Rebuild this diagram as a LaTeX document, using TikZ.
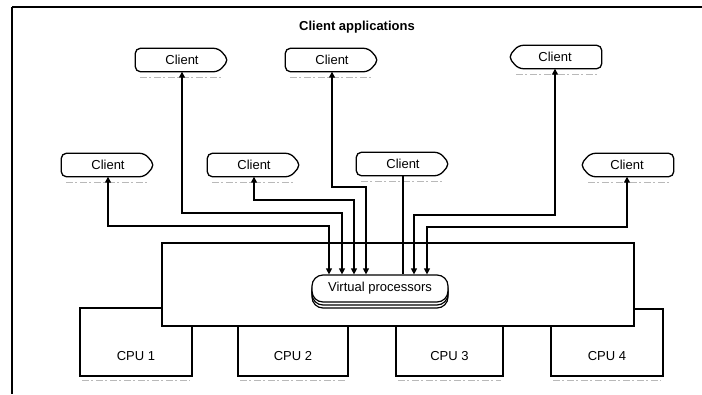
\documentclass[tikz,border=0pt]{standalone}
\usepackage{fontspec}
\setmainfont{Liberation Sans}
\usetikzlibrary{arrows.meta,calc,shadows}

\tikzset{
  frameline/.style={line width=1.4pt},
  labelfont/.style={font=\fontsize{13}{15}\selectfont},
  titletext/.style={font=\bfseries\fontsize{13}{15}\selectfont, inner sep=0pt},
  clientbox/.style={labelfont, minimum width=93pt, minimum height=23pt, inner sep=0pt},
  outline/.style={line width=1.3pt, rounded corners=5pt},
  cpubox/.style={draw, line width=1.2pt, fill=white, inner sep=0pt},
  cpulabel/.style={labelfont, anchor=center, yshift=21pt},
  hostbox/.style={draw, line width=1.2pt, fill=white, minimum width=472pt, minimum height=83pt, inner sep=0pt},
  vpbox/.style={draw, fill=white, line width=1.2pt, rounded corners=11pt,
    minimum width=136pt, minimum height=27pt, inner sep=0pt, labelfont,
    double copy shadow={shadow xshift=0pt, shadow yshift=-3pt}},
  link/.style={line width=1.2pt},
  bilink/.style={link, {Triangle[length=6pt,width=6pt]}-{Triangle[length=6pt,width=6pt]}},
  shadowline/.style={gray!55, line width=0.8pt, dash pattern=on 7pt off 2pt on 2pt off 3pt},
}

% client outlines: rounded body with a pointed end
\newcommand{\pointright}[1]{%
  \draw[outline] ([xshift=-10pt]#1.north east) -- (#1.east) -- ([xshift=-10pt]#1.south east)
    -- (#1.south west) -- (#1.north west) -- cycle;
  \draw[shadowline] ([xshift=5pt,yshift=-6pt]#1.south west) -- ([xshift=-8pt,yshift=-6pt]#1.south east);}
\newcommand{\pointleft}[1]{%
  \draw[outline] ([xshift=10pt]#1.north west) -- (#1.west) -- ([xshift=10pt]#1.south west)
    -- (#1.south east) -- (#1.north east) -- cycle;
  \draw[shadowline] ([xshift=8pt,yshift=-6pt]#1.south west) -- ([xshift=-3pt,yshift=-6pt]#1.south east);}
\newcommand{\boxshadow}[1]{%
  \draw[shadowline] ([xshift=3pt,yshift=-4pt]#1.south west) -- ([xshift=-3pt,yshift=-4pt]#1.south east);}

\begin{document}
\begin{tikzpicture}[x=1pt,y=-1pt]
\useasboundingbox (0,0) rectangle (702,394);
\fill[white] (0,0) rectangle (702,394);

% page frame
\draw[frameline] (12,7) -- (702,7);
\draw[frameline] (12,7) -- (12,394);

\node[titletext] (title) at (357,27) {Client applications};

% processors
\node[cpubox, minimum width=112pt, minimum height=68pt,
      label={[cpulabel,name=cpu1t]south:CPU 1}] (cpu1) at (136,342) {};
\node[cpubox, minimum width=110pt, minimum height=50pt,
      label={[cpulabel,name=cpu2t]south:CPU 2}] (cpu2) at (293,351) {};
\node[cpubox, minimum width=107pt, minimum height=50pt,
      label={[cpulabel,name=cpu3t]south:CPU 3}] (cpu3) at (449.5,351) {};
\node[cpubox, minimum width=112pt, minimum height=67pt,
      label={[cpulabel,name=cpu4t]south:CPU 4}] (cpu4) at (607,342.5) {};
\foreach \c in {cpu1,cpu2,cpu3,cpu4} {\boxshadow{\c}}

% server area
\node[hostbox] (host) at (398,284.5) {};
\node[vpbox] (vp) at (380,288.5) {Virtual processors};

% client applications
\node[clientbox] (t1) at (182,60) {Client};
\node[clientbox] (t2) at (332,60) {Client};
\node[clientbox] (t3) at (555,57) {Client};
\node[clientbox] (r1) at (108,165) {Client};
\node[clientbox] (r2) at (254,165) {Client};
\node[clientbox] (r3) at (403,164) {Client};
\node[clientbox] (r4) at (627,165) {Client};
\pointright{t1}
\pointright{t2}
\pointleft{t3}
\pointright{r1}
\pointright{r2}
\pointright{r3}
\pointleft{r4}

% routing levels
\coordinate (lv187) at (0,187);
\coordinate (lv200) at (0,200);
\coordinate (lv213) at (0,213);
\coordinate (lv215) at (0,215);
\coordinate (lv226) at (0,226);
\coordinate (lv227) at (0,227);

% connections to the virtual processors
\draw[bilink] (r1.south) -- (r1.south |- lv226) -| ([xshift=-51pt]vp.north);
\draw[bilink] (t1.south) -- (t1.south |- lv213) -| ([xshift=-38pt]vp.north);
\draw[bilink] (r2.south) -- (r2.south |- lv200) -| ([xshift=-26pt]vp.north);
\draw[bilink] (t2.south) -- (t2.south |- lv187) -| ([xshift=-14pt]vp.north);
\draw[link]   (r3.south) -- (r3.south |- vp.north);
\draw[bilink] (t3.south) -- (t3.south |- lv215) -| ([xshift=34pt]vp.north);
\draw[bilink] (r4.south) -- (r4.south |- lv227) -| ([xshift=47pt]vp.north);
\end{tikzpicture}
\end{document}
